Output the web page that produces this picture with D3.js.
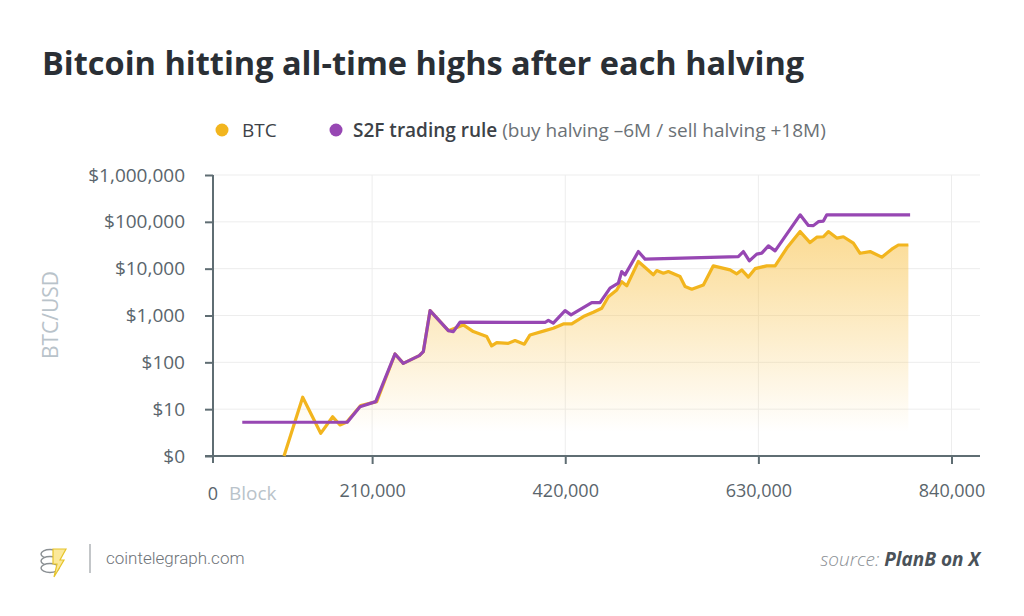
<!DOCTYPE html>
<html>
<head>
<meta charset="utf-8">
<script src="https://cdn.jsdelivr.net/npm/d3@7/dist/d3.min.js"></script>
<style>
  html, body { margin: 0; padding: 0; background: #ffffff; }
  svg { display: block; font-family: "Open Sans", "Noto Sans", sans-serif; }
</style>
</head>
<body>
<svg id="chart" width="1024" height="616"></svg>
<script>
// ---- Data ----
const btcBlocks = [114200, 134500, 154100, 167100, 175100, 182400, 197600, 215000, 224000, 234900, 243900, 261300, 265700, 273000, 292900, 309200, 320000, 334600, 340000, 345500, 358100, 365400, 375500, 381700, 398000, 407000, 417900, 427000, 439700, 450500, 459700, 466900, 476000, 481400, 486900, 499500, 515800, 519500, 526700, 532100, 544800, 550300, 557600, 570200, 581000, 599200, 606500, 611900, 619100, 626400, 639100, 648200, 660900, 675400, 686200, 693500, 700700, 706100, 715300, 722400, 733300, 740600, 751500, 764200, 775000, 782200, 793100];
const btcPrices = [1, 18, 3.05, 6.9, 4.6, 5.3, 12, 14.5, 42, 151, 95, 139, 170, 1270, 475, 630, 453, 355, 224, 264, 255, 291, 244, 385, 475, 535, 660, 660, 950, 1175, 1430, 2520, 3520, 5270, 4300, 14200, 7400, 9100, 8000, 8700, 6800, 4150, 3650, 4500, 11500, 9400, 7750, 9400, 6600, 10000, 11500, 11500, 27500, 62000, 36000, 47000, 48000, 62000, 45000, 48000, 35000, 21300, 23200, 17600, 26100, 32000, 32000];

const s2fBlocks = [68800, 183000, 196800, 213900, 234900, 243900, 261300, 265700, 273000, 292900, 298300, 305600, 398000, 401600, 407000, 419800, 426300, 448800, 457800, 468700, 477700, 481400, 485000, 499500, 506800, 608200, 613700, 620200, 628200, 633700, 640900, 648200, 675400, 684400, 689800, 695200, 700700, 704400, 795000];
const s2fPrices = [5.25, 5.25, 11.3, 14.5, 151, 95, 139, 170, 1270, 475, 453, 719, 710, 790, 685, 1270, 1030, 1890, 1890, 3830, 4900, 8670, 7380, 23200, 15950, 18100, 23200, 14700, 20400, 21400, 30700, 24000, 141000, 83600, 83000, 101000, 104000, 141000, 141000];

const yTickValues = [1, 10, 100, 1000, 10000, 100000, 1000000];
const yTickLabels = ["$0", "$10", "$100", "$1,000", "$10,000", "$100,000", "$1,000,000"];
const xTickValues = [210000, 420000, 630000, 840000];
const xTickLabels = ["210,000", "420,000", "630,000", "840,000"];

const seriesNames = ["BTC", "S2F trading rule"];
const legendNote = "(buy halving \u20136M / sell halving +18M)";
const colors = { btc: "#f2b51e", s2f: "#9747b3" };

// ---- Layout ----
const svg = d3.select("#chart");
const plotLeft = 213, plotRight = 980, plotTop = 175, plotBottom = 456;

const x = d3.scaleLinear().domain([0, 840000]).range([179, 951.5]);
const y = d3.scaleLog().domain([1, 1000000]).range([plotBottom, plotTop]);

// Title
svg.append("text")
  .attr("x", 42).attr("y", 75)
  .attr("font-size", 32.5).attr("font-weight", 700)
  .attr("fill", "#2a2f35")
  .text("Bitcoin hitting all-time highs after each halving");

// Legend
const leg = svg.append("g").attr("font-size", 19);
leg.append("circle").attr("cx", 222).attr("cy", 130).attr("r", 6.5).attr("fill", colors.btc);
leg.append("text").attr("x", 242).attr("y", 137).attr("fill", "#3d4247").text(seriesNames[0]);
leg.append("circle").attr("cx", 336).attr("cy", 130).attr("r", 6.5).attr("fill", colors.s2f);
const lt = leg.append("text").attr("x", 353).attr("y", 137).attr("fill", "#3d4247");
lt.append("tspan").attr("font-weight", 600).text(seriesNames[1] + " ");
lt.append("tspan").attr("fill", "#6b7176").text(legendNote);

// Grid
const grid = svg.append("g");
grid.selectAll("line.h").data(yTickValues.slice(1)).join("line")
  .attr("x1", plotLeft).attr("x2", plotRight)
  .attr("y1", d => y(d)).attr("y2", d => y(d))
  .attr("stroke", "#ededed").attr("stroke-width", 1);
grid.selectAll("line.v").data(xTickValues).join("line")
  .attr("x1", d => x(d)).attr("x2", d => x(d))
  .attr("y1", plotTop).attr("y2", plotBottom)
  .attr("stroke", "#ededed").attr("stroke-width", 1);

// Area fill gradient
const defs = svg.append("defs");
const grad = defs.append("linearGradient").attr("id", "btcFill")
  .attr("gradientUnits", "userSpaceOnUse")
  .attr("x1", 0).attr("x2", 0).attr("y1", 230).attr("y2", 432);
grad.append("stop").attr("offset", "0%").attr("stop-color", "#f8c24a").attr("stop-opacity", 0.6);
grad.append("stop").attr("offset", "100%").attr("stop-color", "#f8c24a").attr("stop-opacity", 0);

const btcData = btcBlocks.map((b, i) => ({ b, v: btcPrices[i] }));
const s2fData = s2fBlocks.map((b, i) => ({ b, v: s2fPrices[i] }));

svg.append("path")
  .datum(btcData)
  .attr("fill", "url(#btcFill)")
  .attr("d", d3.area().x(d => x(d.b)).y0(y(1)).y1(d => y(d.v)));

// Y axis
const yAxis = d3.axisLeft(y).tickValues(yTickValues)
  .tickFormat((d, i) => yTickLabels[i]).tickSize(8).tickPadding(20);
const yg = svg.append("g").attr("transform", `translate(${plotLeft},0)`).call(yAxis);
yg.select(".domain").remove();
yg.selectAll(".tick line").attr("stroke", "#5f6d73").attr("stroke-width", 2);
yg.selectAll(".tick text").attr("fill", "#5a656c").attr("font-size", 19)
  .attr("font-family", "'Open Sans', sans-serif");
svg.append("line").attr("x1", plotLeft).attr("x2", plotLeft)
  .attr("y1", plotTop).attr("y2", plotBottom + 7)
  .attr("stroke", "#5f6d73").attr("stroke-width", 2);

// Y axis title
svg.append("text")
  .attr("transform", "translate(58,315) rotate(-90)")
  .attr("text-anchor", "middle").attr("font-size", 21)
  .attr("fill", "#b9c3ca").text("BTC/USD");

// X axis
const xAxis = d3.axisBottom(x).tickValues(xTickValues)
  .tickFormat((d, i) => xTickLabels[i]).tickSize(8).tickPadding(20);
const xg = svg.append("g").attr("transform", `translate(0,${plotBottom})`).call(xAxis);
xg.select(".domain").remove();
xg.selectAll(".tick line").attr("stroke", "#5f6d73").attr("stroke-width", 2);
xg.selectAll(".tick text").attr("fill", "#5a656c").attr("font-size", 18)
  .attr("font-family", "'Open Sans', sans-serif");
svg.append("line").attr("x1", 205).attr("x2", plotRight)
  .attr("y1", plotBottom).attr("y2", plotBottom)
  .attr("stroke", "#5f6d73").attr("stroke-width", 2);
svg.append("text").attr("x", plotLeft).attr("y", 500)
  .attr("text-anchor", "middle").attr("font-size", 18).attr("fill", "#5a656c").text("0");
svg.append("text").attr("x", 229).attr("y", 500)
  .attr("font-size", 19).attr("fill", "#b9c3ca").text("Block");

// Lines
svg.append("path").datum(btcData)
  .attr("fill", "none").attr("stroke", colors.btc).attr("stroke-width", 3.2)
  .attr("stroke-linejoin", "round")
  .attr("d", d3.line().x(d => x(d.b)).y(d => y(d.v)));
svg.append("path").datum(s2fData)
  .attr("fill", "none").attr("stroke", colors.s2f).attr("stroke-width", 3.2)
  .attr("stroke-linejoin", "round")
  .attr("d", d3.line().x(d => x(d.b)).y(d => y(d.v)));

// Footer: logo
const logo = svg.append("g").attr("transform", "translate(40,545)");
[0, 7, 14].forEach(dy => {
  logo.append("ellipse").attr("cx", 10).attr("cy", 9 + dy).attr("rx", 9).attr("ry", 4.5)
    .attr("fill", "#ffffff").attr("stroke", "#8a8f93").attr("stroke-width", 1.4);
});
logo.append("path").attr("d", "M13,4 L26,4 L20,15 L24,15 L14,32 L17,19 L13,19 Z")
  .attr("fill", "#fbe89a").attr("stroke", "#e6c42a").attr("stroke-width", 1.2);
svg.append("line").attr("x1", 90).attr("x2", 90).attr("y1", 544).attr("y2", 573)
  .attr("stroke", "#9ba0a4").attr("stroke-width", 1.2);
svg.append("text").attr("x", 106).attr("y", 564)
  .attr("font-family", "Roboto, 'Open Sans', sans-serif")
  .attr("font-size", 17).attr("fill", "#6e7378").attr("font-weight", 300)
  .text("cointelegraph.com");

// Source
const src = svg.append("text").attr("x", 980).attr("y", 566)
  .attr("text-anchor", "end").attr("font-size", 19).attr("font-style", "italic");
src.append("tspan").attr("fill", "#8b9095").attr("font-weight", 300).text("source: ");
src.append("tspan").attr("fill", "#4a5259").attr("font-weight", 700).text("PlanB on X");
</script>
</body>
</html>
